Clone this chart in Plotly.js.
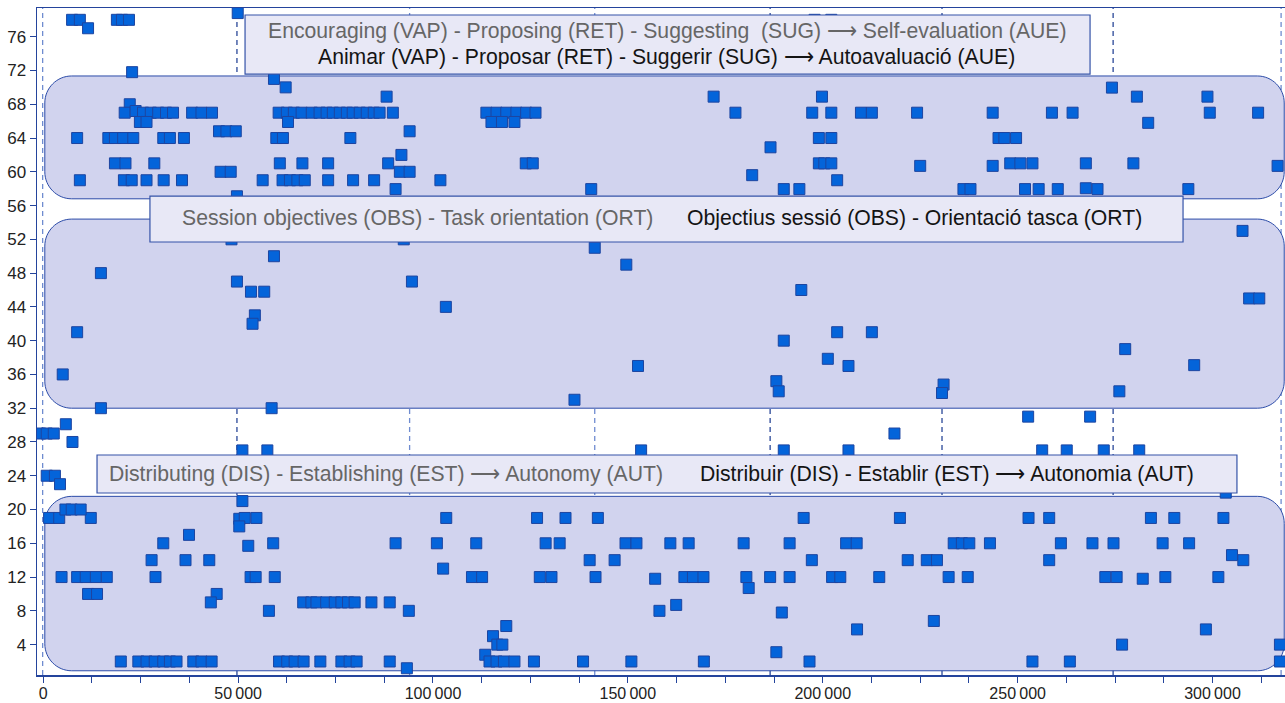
<!DOCTYPE html>
<html>
<head>
<meta charset="utf-8">
<script src="https://cdn.plot.ly/plotly-3.0.1.min.js"></script>
<style>html,body{margin:0;padding:0;background:#fff;}#chart{width:1285px;height:703px;}</style>
</head>
<body>
<div id="chart"></div>
<script>
// ---------- DATA ----------
// Points in the upper region: Encouraging / Proposing / Suggesting -> Self-evaluation
const encPoints = [
  [7400,78],[9400,78],[11500,77],[18900,78],[20200,78],[22000,78],[49900,78.8],[197900,78],[202200,78],
  [22800,71.8],[59200,71],[62200,70],[22200,68],
  [88100,68.9],[172000,68.9],[199800,68.9],[280600,68.9],[298700,68.9],[274200,69.97],
  [20900,67],[23700,67.2],[25600,67],[27600,67],[29500,67],[31500,67],[33300,67],[38200,67],[40600,67],[43300,67],
  [60400,67],[62500,67],[64300,67],[66300,67],[68900,67],[70900,67],[72700,67],[74300,67],[76100,67],[77900,67],
  [79400,67],[81200,67],[83000,67],[84800,67],[86300,67],[89700,67],[113700,67],[116300,67],[118800,67],[121400,67],
  [123900,67],[126300,67],[177600,67],[197300,67],[202200,67],[209800,67],[212600,67],[224200,67],[243600,67],
  [258800,67],[264100,67],[299300,67],[311700,67],
  [24800,65.9],[26500,65.9],[62800,65.9],[115000,65.9],[117700,65.9],[120900,65.9],[283500,65.8],
  [45100,64.8],[47000,64.8],[49400,64.8],[94000,64.8],
  [8700,64],[16700,64],[18400,64],[20500,64],[23100,64],[30800,64],[32500,64],[36100,64],[59800,64],[61500,64],
  [78800,64],[199000,64],[202200,64],[245100,64],[246600,64],[249600,64],
  [186600,62.9],[91900,62],
  [18400,61],[21100,61],[28500,61],[60700,61],[66500,61],[73100,61],[88500,61],[123800,61],[125600,61],[199000,61],
  [200400,61],[202200,61],[248100,61],[250700,61],[253800,61],[267500,61],[279700,61],
  [225000,60.7],[243600,60.7],[316700,60.7],
  [45500,60],[48100,60],[91500,60],[94000,60],[181900,59.6],
  [9400,59],[20700,59],[22700,59],[26500,59],[30900,59],[35600,59],[56300,59],[61400,59],[63300,59],[65200,59],
  [67100,59],[73100,59],[79500,59],[84900,59],[101900,59],[203700,59],
  [90400,57.95],[140600,57.95],[190000,57.95],[194000,57.95],[236100,57.95],[237900,57.95],[251900,57.95],
  [255400,57.95],[260300,57.95],[267500,58.05],[270500,57.95],[293800,57.95],
  [49700,57.1]
];
// Session objectives / Task orientation region
const obsPoints = [
  [14800,48],[8700,41],[5000,36],[14800,32],[58600,32],[49700,47],[94600,47],[53300,45.8],[56700,45.8],[54300,43],
  [53700,42],[59200,50],[48300,52],[92500,52],[103300,44],[136300,33],[141500,51],[149600,49],[152600,37],
  [194500,46],[190000,40],[203700,41],[212600,41],[201300,37.85],[206600,37],[188100,35.2],[188700,34],
  [231000,34.8],[230600,33.8],[307700,53],[309400,45],[312000,45],[277600,39],[295300,37.1],[276100,34]
];
// Points between the bands
const midPoints = [
  [-800,29],[900,29],[2700,29],[5800,30.1],[7500,28],[51100,27],[57500,27],[153400,27],[190000,27],[206600,27],
  [256300,27],[262600,27],[272100,27],[281200,27],[218400,29],[252700,31],[268600,31],[900,24],[3000,24],[4300,23],
  [303400,22]
];
// Distributing / Establishing -> Autonomy region
const autPoints = [
  [51100,21],
  [1500,19],[4100,19],[12200,19],[50300,18.9],[51700,19],[54700,19],[103400,19],[126700,19],[134000,19],[142300,19],
  [195100,19],[219800,19],[252800,19],[258100,19],[284200,19],[290200,19],[302800,19],
  [50300,18],[5700,20],[7300,20],[9600,20],
  [30800,16],[52600,15.7],[59000,16],[90400,16],[101000,16],[111100,16],[128900,16],[132500,16],[149400,16],
  [152200,16],[160900,16],[165600,16],[179700,16],[191500,16],[206000,16],[208700,16],[233600,16],[235700,16],
  [237600,16],[242900,16],[261100,16],[269200,16],[274600,16],[287200,16],[294000,16],
  [37400,17],
  [27800,14],[36500,14],[42600,14],[140200,14],[146600,14],[197200,14],[221800,14],[226700,14],[229300,14],
  [258100,14],[307900,14],[305000,14.6],[102600,13],
  [4700,12],[8700,12],[10900,12],[13500,12],[16300,12],[28800,12],[53200,12],[54500,12],[59400,12],[110000,12],
  [112600,12],[127400,12],[130400,12],[141700,12],[157000,11.8],[164500,12],[166700,12],[169400,12],[180400,12],
  [186500,12],[191500,12],[202400,12],[204500,12],[214500,12],[232300,12],[237200,12],[272500,12],[275400,12],
  [282100,11.8],[287900,12],[301500,12],
  [181000,10.7],[11500,10],[13800,10],[44500,10],
  [43000,9],[66700,9],[68800,9],[70100,9],[72600,9],[74800,9],[76500,9],[78200,9],[79900,9],[84200,9],[88900,9],
  [162400,8.7],[57900,8],[93800,8],[158100,8],[189500,7.8],[228500,6.8],[208800,5.8],[298300,5.8],[118800,6.2],
  [115400,5],[116500,4],[117800,4],[276800,4],[317300,4],[188100,3.1],[113400,2.8],
  [19900,2],[24400,2],[26500,2],[28600,2],[30800,2],[32500,2],[34200,2],[38500,2],[40600,2],[43200,2],
  [60500,2],[62600,2],[64500,2],[66800,2],[71100,2],[76500,2],[78600,2],[80400,2],[88900,2],[114500,2],
  [116300,2],[118200,2],[120900,2],[125900,2],[138500,2],[150900,2],[169500,2],[196600,2],[253800,2],
  [263400,2],[317300,2],[93300,1.2]
];
// Session boundaries (dashed vertical lines); true = dark line
const sessionBounds = [-150, 49700, 94000, 141500, 186500, 230600, 274500, 317600];
const sessionDark   = [false, true, false, false, true, true, true, false];
// Category bands (y extents)
const bandLow  = [56.8, 32.0, 0.9];
const bandHigh = [71.35, 54.4, 21.56];
// Axis ticks
const xTickVals = [0, 50000, 100000, 150000, 200000, 250000, 300000];
const xTickText = ['0', '50\u2009000', '100\u2009000', '150\u2009000', '200\u2009000', '250\u2009000', '300\u2009000'];
const yTickVals = [4, 8, 12, 16, 20, 24, 28, 32, 36, 40, 44, 48, 52, 56, 60, 64, 68, 72, 76];
// Labels
const enLabels = [
  'Encouraging (VAP) - Proposing (RET) - Suggesting  (SUG) \u27F6 Self-evaluation (AUE)',
  'Session objectives (OBS) - Task orientation (ORT)',
  'Distributing (DIS) - Establishing (EST) \u27F6 Autonomy (AUT)'
];
const caLabels = [
  'Animar (VAP) - Proposar (RET) - Suggerir (SUG) \u27F6 Autoavaluació (AUE)',
  'Objectius sessió (OBS) - Orientació tasca (ORT)',
  'Distribuir (DIS) - Establir (EST) \u27F6 Autonomia (AUT)'
];

// ---------- BUILD ----------
const all = encPoints.concat(obsPoints, midPoints, autPoints);
const trace = {
  type: 'scatter', mode: 'markers',
  x: all.map(p => p[0]), y: all.map(p => p[1]),
  marker: {symbol: 'square', size: 11, color: '#0464da', line: {color: '#1d45a0', width: 1}},
  hoverinfo: 'x+y', cliponaxis: true
};

const XR = [-1600, 318600];
function rounded(x0, x1, y0, y1, rx, ry) {
  const k = 0.5523;
  return 'M' + (x0 + rx) + ',' + y0 +
    ' L' + (x1 - rx) + ',' + y0 +
    ' C' + (x1 - rx + k * rx) + ',' + y0 + ' ' + x1 + ',' + (y0 + ry - k * ry) + ' ' + x1 + ',' + (y0 + ry) +
    ' L' + x1 + ',' + (y1 - ry) +
    ' C' + x1 + ',' + (y1 - ry + k * ry) + ' ' + (x1 - rx + k * rx) + ',' + y1 + ' ' + (x1 - rx) + ',' + y1 +
    ' L' + (x0 + rx) + ',' + y1 +
    ' C' + (x0 + rx - k * rx) + ',' + y1 + ' ' + x0 + ',' + (y1 - ry + k * ry) + ' ' + x0 + ',' + (y1 - ry) +
    ' L' + x0 + ',' + (y0 + ry) +
    ' C' + x0 + ',' + (y0 + ry - k * ry) + ' ' + (x0 + rx - k * rx) + ',' + y0 + ' ' + (x0 + rx) + ',' + y0 + ' Z';
}
const shapes = [];
bandLow.forEach((lo, i) => {
  shapes.push({type: 'path', xref: 'x', yref: 'y', layer: 'below',
    path: rounded(400, 318400, lo, bandHigh[i], 6900, 3.2),
    fillcolor: '#d1d3ee', line: {color: '#2b4ba8', width: 1}});
});
sessionBounds.forEach((b, i) => {
  shapes.push({type: 'line', xref: 'x', yref: 'paper', x0: b, x1: b, y0: 0, y1: 1, layer: 'below',
    line: {color: sessionDark[i] ? '#2a4898' : '#6f8cd0', width: 1.3, dash: '5px,4px'}});
});
// label boxes (paper coords)
const boxes = [
  {x0: 0.1667, x1: 0.8438, y0: 0.9010, y1: 0.9895},
  {x0: 0.0905, x1: 0.9183, y0: 0.6492, y1: 0.7181},
  {x0: 0.0481, x1: 0.9615, y0: 0.2729, y1: 0.3298}
];
boxes.forEach(b => shapes.push({type: 'rect', xref: 'paper', yref: 'paper', layer: 'above',
  x0: b.x0, x1: b.x1, y0: b.y0, y1: b.y1, fillcolor: '#e8e8f6', line: {color: '#3553a8', width: 1.2}}));

const FONT = 'Liberation Sans, Arial, Helvetica, sans-serif';
const FS = 21.2;
const gray = '#666666', black = '#141414';
const annotations = [
  {x: 0.5052, y: 0.9655, text: enLabels[0], color: gray},
  {x: 0.5048, y: 0.9265, text: caLabels[0], color: black},
  {x: 0.3049, y: 0.6852, text: enLabels[1], color: gray},
  {x: 0.7031, y: 0.6852, text: caLabels[1], color: black},
  {x: 0.2796, y: 0.3013, text: enLabels[2], color: gray},
  {x: 0.7288, y: 0.3013, text: caLabels[2], color: black}
].map(a => ({xref: 'paper', yref: 'paper', x: a.x, y: a.y, xanchor: 'center', yanchor: 'middle',
  text: a.text, showarrow: false, font: {family: FONT, size: FS, color: a.color}}));

const axisColor = '#24449c';
const layout = {
  width: 1285, height: 703,
  margin: {l: 37, r: 0, t: 8, b: 28},
  paper_bgcolor: '#ffffff', plot_bgcolor: '#ffffff',
  showlegend: false,
  font: {family: FONT, size: 16, color: '#222222'},
  xaxis: {range: XR, showgrid: false, zeroline: false, showline: true, mirror: true,
    linecolor: axisColor, linewidth: 1.5, ticks: 'outside', ticklen: 6, tickcolor: axisColor, tickwidth: 1,
    tickvals: xTickVals, ticktext: xTickText, tickfont: {size: 16, color: '#222'}, ticklabelstandoff: -3,
    minor: {dtick: 12500, tick0: 0, ticks: 'outside', ticklen: 6, tickcolor: axisColor, tickwidth: 1, showgrid: false}},
  yaxis: {range: [0.4, 79.4], showgrid: false, zeroline: false, showline: true, mirror: true,
    linecolor: axisColor, linewidth: 1.5, ticks: 'outside', ticklen: 6, tickcolor: axisColor, tickwidth: 1,
    tickvals: yTickVals, tickfont: {size: 17, color: '#222'}},
  shapes: shapes,
  annotations: annotations
};
Plotly.newPlot('chart', [trace], layout, {displayModeBar: false, staticPlot: true});
</script>
</body>
</html>
